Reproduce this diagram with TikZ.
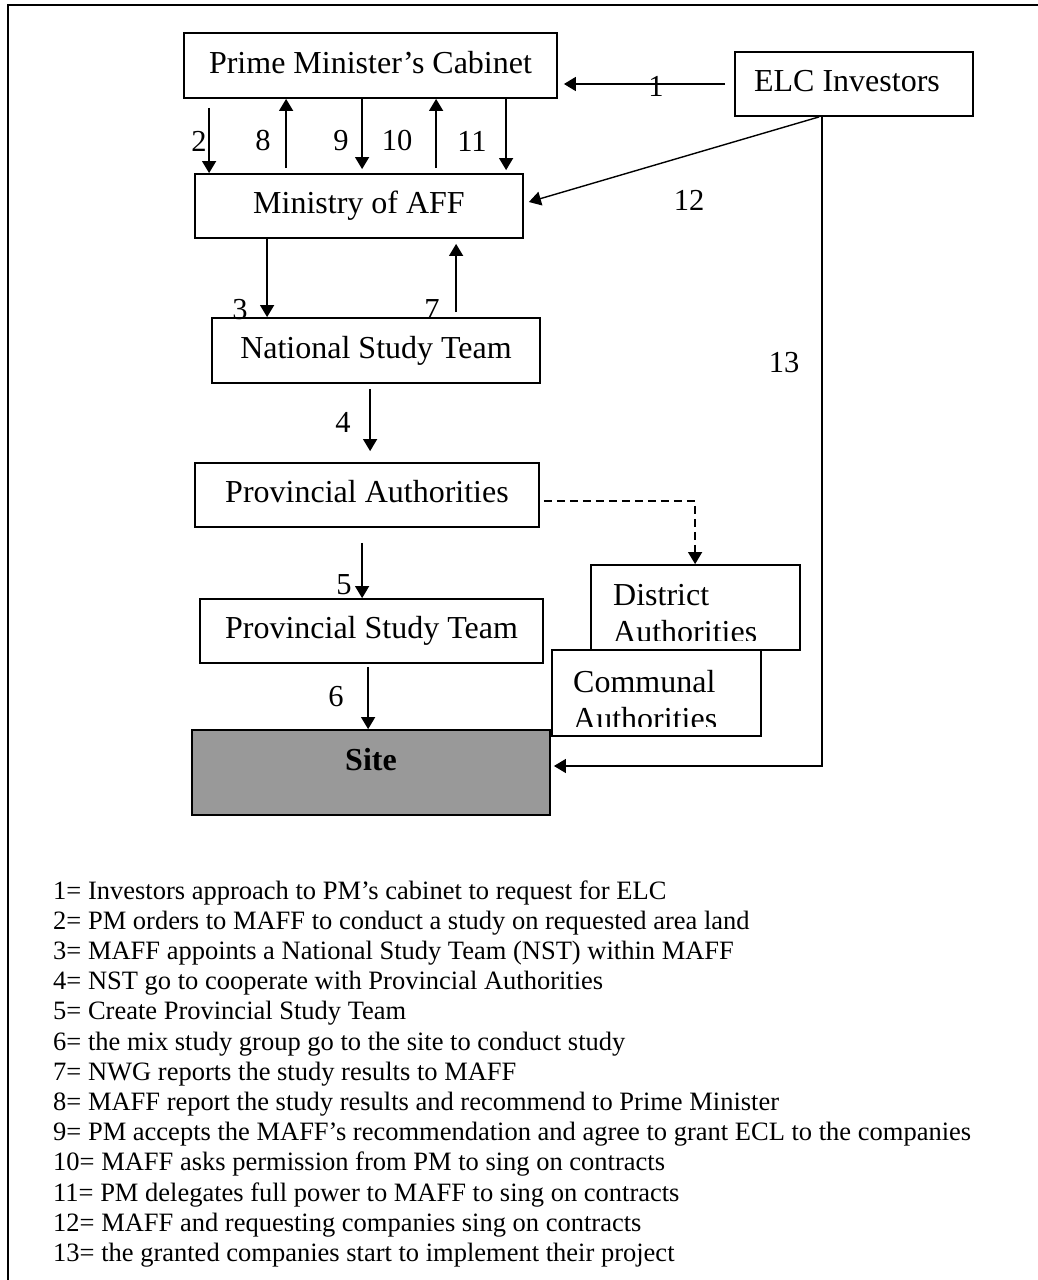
\documentclass[tikz,border=0pt]{standalone}
\usepackage{fontspec}
\setmainfont{Liberation Serif}
\usetikzlibrary{arrows.meta,calc}
\definecolor{sitegray}{RGB}{153,153,153}
\begin{document}
\begin{tikzpicture}[x=1pt,y=-1pt,
  box/.style={draw, line width=1.8pt, fill=white, inner sep=0pt,
    text height=22pt, text depth=7pt, font=\fontsize{32}{37}\selectfont},
  arr/.style={line width=1.4pt, -{Triangle[length=12pt,width=14pt]}},
  num/.style={inner sep=0pt, font=\fontsize{30.5}{34}\selectfont},
  boxtext/.style={anchor=base west, inner sep=0pt, font=\fontsize{32}{37}\selectfont},
  legtext/.style={anchor=base west, inner sep=0pt, font=\fontsize{26.5}{30.5}\selectfont},
  frameline/.style={line width=2pt}]
\useasboundingbox (0,0) rectangle (1038,1280);

% frame
\draw[frameline] (1038,5) -- (8,5) -- (8,1280);

% boxes
\node[box, minimum width=373pt, minimum height=65pt] (pm) at (370.5,65.5) {Prime Minister’s Cabinet};
\node[box, minimum width=238pt, minimum height=64pt] (elc) at (854,84) {ELC Investors\kern14pt};
\node[box, minimum width=328pt, minimum height=64pt] (maff) at (359,206) {Ministry of AFF};
\node[box, minimum width=328pt, minimum height=65pt] (nst) at (376,350.5) {National Study Team};
\node[box, minimum width=344pt, minimum height=64pt] (pa) at (367,495) {Provincial Authorities};
\node[box, minimum width=343pt, minimum height=64pt] (pst) at (371.5,631) {Provincial Study Team};
\node[box, minimum width=209pt, minimum height=85pt] (dist) at (695.5,607.5) {};
\begin{scope}
  \clip (dist.north west) rectangle ([yshift=10pt]dist.south east);
  \node[boxtext] (distA) at (613,605) {District};
  \node[boxtext] (distB) at (613,642) {Authorities};
\end{scope}
\node[box, minimum width=209pt, minimum height=86pt] (comm) at (656.5,693) {};
\begin{scope}
  \clip (comm.north west) rectangle ([yshift=10pt]comm.south east);
  \node[boxtext] (commA) at (573,692) {Communal};
  \node[boxtext] (commB) at (573,729) {Authorities};
\end{scope}
\node[box, fill=sitegray, minimum width=358pt, minimum height=85pt,
  text height=22pt, text depth=27pt, font=\fontsize{32}{37}\selectfont\bfseries] (site) at (371,772.5) {Site};

% connectors
\draw[arr, line width=1.8pt, shorten <=9pt, shorten >=6pt] (elc.west) -- (pm.east |- elc.west);
\draw[arr] ([xshift=26pt,yshift=-9pt]pm.south west) -- ([xshift=15pt]maff.north west);
\draw[arr] ([xshift=92pt,yshift=5pt]maff.north west) -- ([xshift=103pt]pm.south west);
\draw[arr] ([xshift=179pt]pm.south west) -- ([xshift=168pt,yshift=4pt]maff.north west);
\draw[arr] ([xshift=242pt,yshift=5pt]maff.north west) -- ([xshift=253pt]pm.south west);
\draw[arr] ([xshift=323pt]pm.south west) -- ([xshift=312pt,yshift=3pt]maff.north west);
\draw[arr] ([xshift=85pt]elc.south west) -- ([xshift=5pt,yshift=4pt]maff.east);
\draw[arr] ([xshift=73pt]maff.south west) -- ([xshift=56pt]nst.north west);
\draw[arr] ([xshift=245pt,yshift=5pt]nst.north west) -- ([xshift=262pt,yshift=-5pt]maff.south west);
\draw[arr] ([xshift=159pt,yshift=-5pt]nst.south west) -- ([xshift=176pt,yshift=11pt]pa.north west);
\draw[arr, line width=1.3pt, dash pattern=on 8pt off 5pt] ([xshift=4pt,yshift=-6pt]pa.east) -| ([xshift=105pt]dist.north west);
\draw[arr] ([xshift=168pt,yshift=-15pt]pa.south west) -- ([xshift=163pt]pst.north west);
\draw[arr] ([xshift=169pt,yshift=-3pt]pst.south west) -- ([xshift=177pt]site.north west);
\draw[arr] ([xshift=88pt]elc.south west) |- ([xshift=3pt,yshift=6.5pt]site.east);

% connector labels
\node[num] (n1) at (656,86) {1};
\node[num] (n2) at (199,141) {2};
\node[num] (n8) at (263,141) {8};
\node[num] (n9) at (341,141) {9};
\node[num] (n10) at (397,141) {10};
\node[num] (n11) at (472,141) {11};
\node[num] (n12) at (689,200) {12};
\node[num] (n3) at (240,310) {3};
\node[num] (n7) at (432,310) {7};
\node[num] (n13) at (784,363) {13};
\node[num] (n4) at (343,422) {4};
\node[num] (n5) at (344,585) {5};
\node[num] (n6) at (336,697) {6};

% legend
\node[legtext] (leg1) at (53,899) {1= Investors approach to PM’s cabinet to request for ELC};
\node[legtext] (leg2) at (53,929.2) {2= PM orders to MAFF to conduct a study on requested area land};
\node[legtext] (leg3) at (53,959.4) {3= MAFF appoints a National Study Team (NST) within MAFF};
\node[legtext] (leg4) at (53,989.6) {4= NST go to cooperate with Provincial Authorities};
\node[legtext] (leg5) at (53,1019.8) {5= Create Provincial Study Team};
\node[legtext] (leg6) at (53,1050) {6= the mix study group go to the site to conduct study};
\node[legtext] (leg7) at (53,1080.2) {7= NWG reports the study results to MAFF};
\node[legtext] (leg8) at (53,1110.4) {8= MAFF report the study results and recommend to Prime Minister};
\node[legtext] (leg9) at (53,1140.6) {9= PM accepts the MAFF’s recommendation and agree to grant ECL to the companies};
\node[legtext] (leg10) at (53,1170.8) {10= MAFF asks permission from PM to sing on contracts};
\node[legtext] (leg11) at (53,1201) {11= PM delegates full power to MAFF to sing on contracts};
\node[legtext] (leg12) at (53,1231.2) {12= MAFF and requesting companies sing on contracts};
\node[legtext] (leg13) at (53,1261.4) {13= the granted companies start to implement their project};
\end{tikzpicture}
\end{document}
